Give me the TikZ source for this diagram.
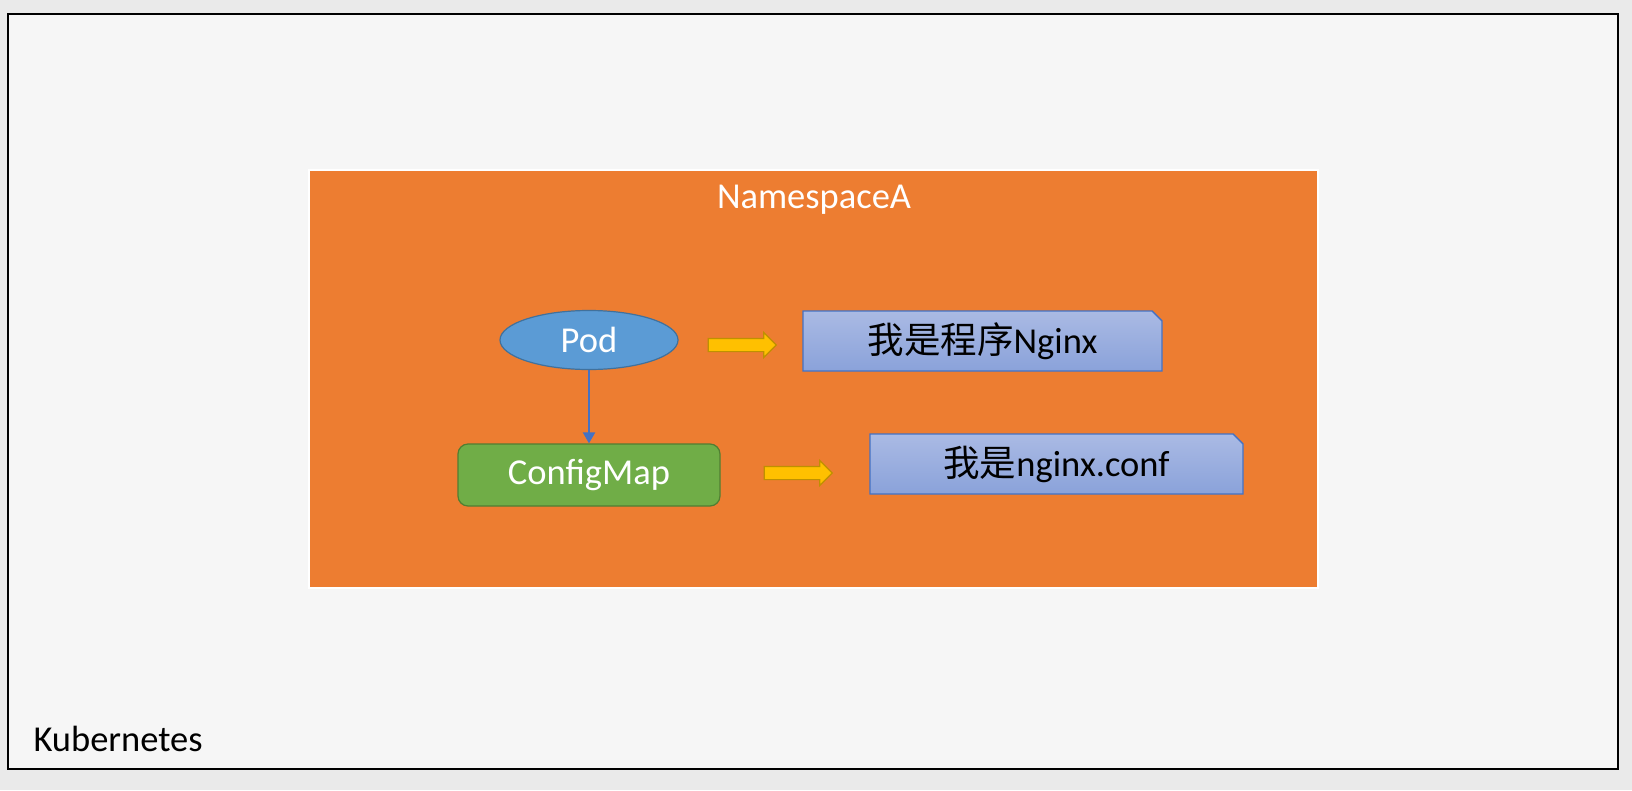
\documentclass[tikz,border=0pt]{standalone}
\usepackage{fontspec}
\setmainfont{Carlito}
\newfontfamily\cjk{Noto Sans CJK SC}
\usetikzlibrary{shapes.geometric,shapes.arrows,shapes.misc,arrows.meta}

\definecolor{pagegray}{HTML}{EAEAEA}
\definecolor{slidegray}{HTML}{F6F6F6}
\definecolor{nsorange}{HTML}{ED7D31}
\definecolor{podblue}{HTML}{5B9BD5}
\definecolor{podline}{HTML}{41719C}
\definecolor{cmgreen}{HTML}{70AD47}
\definecolor{cmline}{HTML}{507E32}
\definecolor{arrowyellow}{HTML}{FFC000}
\definecolor{arrowline}{HTML}{BF9000}
\definecolor{notetop}{HTML}{AABAE4}
\definecolor{notebottom}{HTML}{8AA2DA}
\definecolor{noteline}{HTML}{4472C4}

\tikzset{
  txt/.style={font=\fontsize{36.5}{42}\selectfont},
  pod/.style={ellipse, draw=podline, fill=podblue, line width=1.2pt,
    minimum width=178pt, minimum height=59pt, inner sep=0pt, text=white, txt},
  cmap/.style={rectangle, rounded corners=10pt, draw=cmline, fill=cmgreen,
    line width=1.2pt, minimum width=262pt, minimum height=62pt, inner sep=0pt,
    text=white, txt},
  note/.style={chamfered rectangle, chamfered rectangle corners=north east,
    chamfered rectangle xsep=5pt, chamfered rectangle ysep=5pt,
    draw=noteline, top color=notetop, bottom color=notebottom,
    line width=1.4pt, minimum height=60pt, inner sep=0pt, txt},
  fat/.style={single arrow, draw=arrowline, fill=arrowyellow, line width=1.2pt,
    minimum height=68pt, inner xsep=0pt, inner ysep=6pt,
    single arrow head extend=6pt},
  link/.style={draw=noteline, line width=2pt, -{Triangle[width=12pt,length=11pt]}}
}

\begin{document}
\begin{tikzpicture}[x=1pt, y=-1pt]
    \fill[pagegray] (0,0) rectangle (1632,790);
    \useasboundingbox (0,0) rectangle (1632,790);
    \draw[fill=slidegray, line width=2.2pt] (8,14) rectangle (1618,769);

    \node[rectangle, fill=nsorange, draw=white, line width=2.5pt,
      minimum width=1009pt, minimum height=418pt] (nsA) at (813.5,379) {};
    \node[txt, text=white] (nstitle) at (814,200) {NamespaceA};
    \node[txt, anchor=base west] (k8s) at (30,751) {Kubernetes};

    \node[pod] (pod) at (589,340) {Pod};
    \node[cmap] (cfg) at (589,475) {ConfigMap};
    \node[fat] (fat1) at (739,345) {};
    \node[fat] (fat2) at (795,473) {};
    \node[note, minimum width=359pt] (prog) at (982.5,341) {{\cjk 我是程序}Nginx};
    \node[note, minimum width=373pt] (conf) at (1056.5,464) {{\cjk 我是}nginx.conf};

    \path[link] (pod) -- (cfg);
\end{tikzpicture}
\end{document}
